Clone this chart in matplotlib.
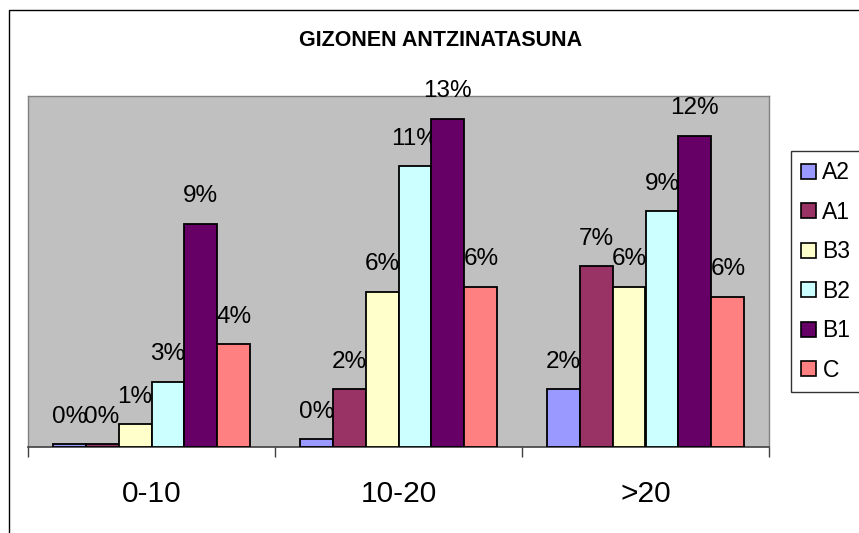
import matplotlib.pyplot as plt
import matplotlib.patches as mpatches
import numpy as np

# Data (fractions)
categories = ["0-10", "10-20", ">20"]
series_names = ["A2", "A1", "B3", "B2", "B1", "C"]
a2 = [0.001, 0.003, 0.023]
a1 = [0.001, 0.023, 0.072]
b3 = [0.009, 0.062, 0.064]
b2 = [0.026, 0.112, 0.094]
b1 = [0.089, 0.131, 0.124]
c = [0.041, 0.064, 0.060]
colors = ["#9999FF", "#993366", "#FFFFCC", "#CCFFFF", "#660066", "#FF8080"]

W, H = 859, 533
fig = plt.figure(figsize=(W / 100, H / 100), dpi=100)
plt.rcParams["font.family"] = ["Liberation Sans", "DejaVu Sans"]

# plot area in pixel coordinates
left, right, top, bottom = 28, 769, 96, 447
ax = fig.add_axes([left / W, 1 - bottom / H, (right - left) / W, (bottom - top) / H])
ax.set_facecolor("#C0C0C0")

# outer chart border (runs off the right and bottom edge)
fig.patches.append(mpatches.Rectangle((9 / W, -0.2), 2, 1 - 10 / H + 0.2,
                                      transform=fig.transFigure, fill=False,
                                      edgecolor="black", linewidth=1))

values = [a2, a1, b3, b2, b1, c]
n = len(values)
width = 1 / (n + 1.5)
x = np.arange(len(categories))

for i, (name, vals, col) in enumerate(zip(series_names, values, colors)):
    offs = (i - (n - 1) / 2) * width
    bars = ax.bar(x + offs, vals, width, color=col, edgecolor="black",
                  linewidth=1.3, label=name, zorder=3)
    for rect, v in zip(bars, vals):
        ax.annotate(f"{v:.0%}", (rect.get_x() + rect.get_width() / 2, v),
                    xytext=(0, 12), textcoords="offset points",
                    ha="center", va="bottom", fontsize=17.5, clip_on=False)

ax.set_xlim(-0.5, len(categories) - 0.5)
ax.set_ylim(0, 0.14)
ax.set_yticks([])
ax.set_xticks(x)
ax.set_xticklabels(categories, fontsize=21.5)
ax.tick_params(axis="x", which="major", length=0, pad=24)
ax.set_xticks(np.arange(-0.5, len(categories)), minor=True)
ax.tick_params(axis="x", which="minor", length=7.5, width=1, color="#404040",
               direction="out")

for side in ["top", "right", "left"]:
    ax.spines[side].set_color("#808080")
    ax.spines[side].set_linewidth(1)
ax.spines["bottom"].set_color("#404040")
ax.spines["bottom"].set_linewidth(1.2)

fig.text(441 / W, 1 - 41 / H, "GIZONEN ANTZINATASUNA", ha="center", va="center",
         fontsize=15.5, fontweight="bold")

handles = [mpatches.Patch(facecolor=col, edgecolor="black", linewidth=1.2, label=nm)
           for nm, col in zip(series_names, colors)]
leg = fig.legend(handles=handles, loc="upper left",
                 bbox_to_anchor=(791 / W, 1 - 151 / H), bbox_transform=fig.transFigure,
                 fontsize=16.5, frameon=True, fancybox=False, shadow=False,
                 handlelength=0.62, handleheight=0.62, handletextpad=0.3,
                 labelspacing=0.72, borderpad=0.45, borderaxespad=0)
leg.get_frame().set_edgecolor("black")
leg.get_frame().set_linewidth(1)

fig.savefig("out.png", dpi=100)
